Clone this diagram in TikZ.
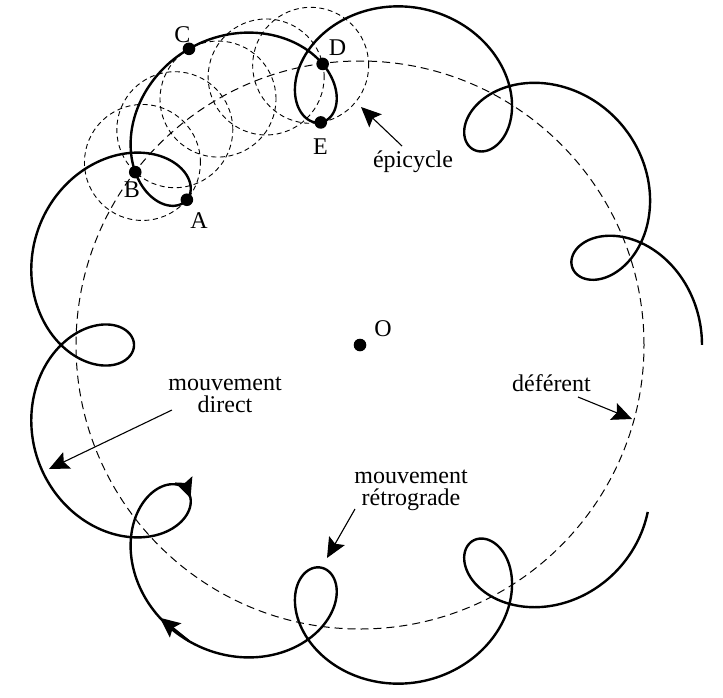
\documentclass[tikz,border=0pt]{standalone}
\usepackage{fontspec}
\setmainfont{Liberation Serif}
\usetikzlibrary{arrows.meta}
\pgfmathdeclarefunction{epx}{1}{\pgfmathparse{360+284*cos(#1)+58*cos(10*(#1))}}
\pgfmathdeclarefunction{epy}{1}{\pgfmathparse{345-284*sin(#1)-58*sin(10*(#1))}}
\pgfmathdeclarefunction{dfx}{1}{\pgfmathparse{360+284*cos(#1)}}
\pgfmathdeclarefunction{dfy}{1}{\pgfmathparse{345-284*sin(#1)}}
\begin{document}
\begin{tikzpicture}[x=0.5pt,y=-0.5pt,
  orbit/.style={line width=1.2pt, line join=round},
  defer/.style={line width=0.5pt, dash pattern=on 4pt off 2.5pt},
  epi/.style={line width=0.45pt, dash pattern=on 2.5pt off 1.8pt},
  dot/.style={circle, fill=black, inner sep=0pt, minimum size=6.3pt},
  lbl/.style={font=\fontsize{12}{11}\selectfont, inner sep=0pt, align=center, anchor=base},
  headtip/.style={-{Stealth[length=10pt,width=9pt,inset=1.8pt]}},
  callout/.style={line width=0.55pt, headtip}]
\useasboundingbox (0,0) rectangle (723,697);

% centre and deferent
\node[dot] (O) at (360,345) {};
\draw[defer] (O.center) circle[radius=142pt];

% epicycles
\foreach \a in {140,130.7,120,109.3,100}
  \draw[epi] ({dfx(\a)},{dfy(\a)}) circle[radius=29pt];

% planet path
\draw[orbit] plot[domain=-36:-360, samples=900, variable=\t, smooth] ({epx(\t)},{epy(\t)});

% arrowheads on the path
\coordinate (p1a) at ({epx(-120)},{epy(-120)});
\coordinate (p1b) at ({epx(-122.5)},{epy(-122.5)});
\coordinate (p2a) at ({epx(-140.5)},{epy(-140.5)});
\coordinate (p2b) at ({epx(-141.7)},{epy(-141.7)});
\draw[orbit, headtip] (p1a) -- (p1b);
\draw[orbit, headtip] (p2a) -- (p2b);

% marked positions
\node[dot] (A) at ({epx(140)},{epy(140)}) {};
\node[dot] (B) at ({epx(130.7)},{epy(130.7)}) {};
\node[dot] (C) at ({epx(120)},{epy(120)}) {};
\node[dot] (D) at ({epx(109.3)},{epy(109.3)}) {};
\node[dot] (E) at ({epx(100)},{epy(100)}) {};

% point labels
\node[lbl] (lO) at (383,336) {O};
\node[lbl] (lA) at (199,228) {A};
\node[lbl] (lB) at (132,197) {B};
\node[lbl] (lC) at (182.5,42) {C};
\node[lbl] (lD) at (337.5,55) {D};
\node[lbl] (lE) at (320.5,154) {E};

% text labels (base = last line)
\node[lbl] (tepi) at (413,167) {épicycle};
\node[lbl] (tdef) at (551.5,391) {déférent};
\node[lbl] (tdir) at (225,412) {mouvement\\direct};
\node[lbl] (tret) at (411,505) {mouvement\\rétrograde};

% callout arrows
\coordinate (epiS) at (402,146);
\coordinate (epiT) at (361,107);
\coordinate (defS) at (578,397);
\coordinate (defT) at (632,419);
\coordinate (dirS) at (172,410);
\coordinate (dirT) at (49,469);
\coordinate (retS) at (355,509);
\coordinate (retT) at (327,558);
\draw[callout] (epiS) -- (epiT);
\draw[callout] (defS) -- (defT);
\draw[callout] (dirS) -- (dirT);
\draw[callout] (retS) -- (retT);
\end{tikzpicture}
\end{document}
